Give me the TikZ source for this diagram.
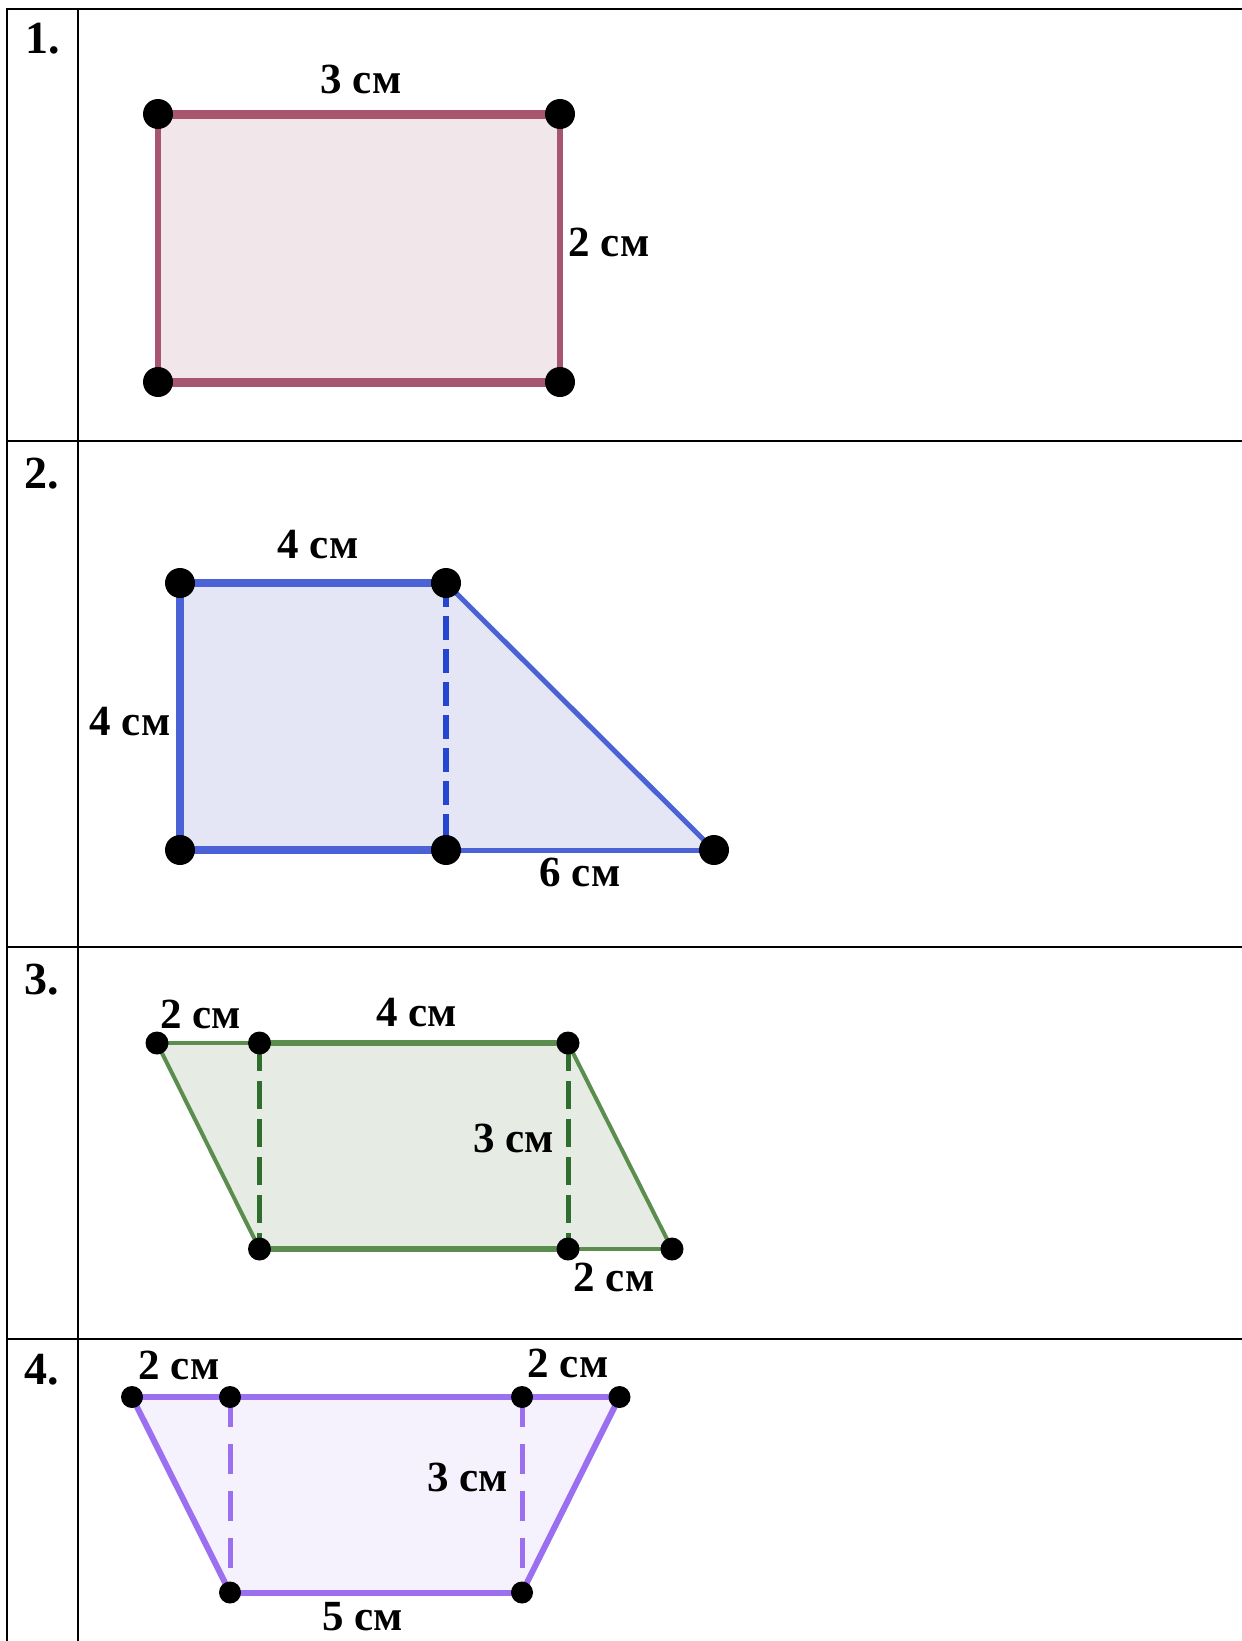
\documentclass[tikz,border=0pt]{standalone}
\usepackage{fontspec}
\setmainfont{Liberation Serif}
\usetikzlibrary{backgrounds}
\definecolor{rs}{HTML}{A8566F}
\definecolor{rf}{HTML}{F1E6EA}
\definecolor{bs}{HTML}{4A62D6}
\definecolor{bd}{HTML}{2446D0}
\definecolor{bf}{HTML}{E4E6F5}
\definecolor{gs}{HTML}{5B8E4E}
\definecolor{gd}{HTML}{2F6E2C}
\definecolor{gf}{HTML}{E6EBE3}
\definecolor{ps}{HTML}{9B6FF0}
\definecolor{pf}{HTML}{F5F2FD}
\tikzset{
  dot/.style={circle, fill=black, inner sep=0pt, minimum size=#1},
  lbl/.style={font=\fontsize{43}{50}\selectfont\bfseries, inner sep=0pt},
  num/.style={font=\fontsize{46}{54}\selectfont\bfseries, inner sep=0pt},
  tabline/.style={line width=2.2pt, black},
  dashA/.style={dash pattern=on 24pt off 9pt},
  dashB/.style={dash pattern=on 28pt off 10pt},
  dashC/.style={dash pattern=on 30pt off 17pt},
}
\begin{document}
\begin{tikzpicture}[x=1pt,y=-1pt]
\useasboundingbox (0,0) rectangle (1242,1641);
% table
\coordinate (TL) at (7,9);
\coordinate (TR) at (1242,9);
\coordinate (BL) at (7,1641);
\coordinate (CT) at (78,9);
\coordinate (CB) at (78,1641);
\coordinate (R1L) at (7,441);  \coordinate (R1R) at (1242,441);
\coordinate (R2L) at (7,947);  \coordinate (R2R) at (1242,947);
\coordinate (R3L) at (7,1339); \coordinate (R3R) at (1242,1339);
\draw[tabline] (TR) -- (TL) -- (BL);
\draw[tabline] (CT) -- (CB);
\draw[tabline] (R1L) -- (R1R);
\draw[tabline] (R2L) -- (R2R);
\draw[tabline] (R3L) -- (R3R);
\node[num] (n1) at (43,38.5) {1.};
\node[num] (n2) at (42,474) {2.};
\node[num] (n3) at (42,980) {3.};
\node[num] (n4) at (42,1370) {4.};

% ---------- Figure 1 ----------
\node[dot=30pt] (a1) at (158,114) {};
\node[dot=30pt] (a2) at (560,114) {};
\node[dot=30pt] (a3) at (560,382) {};
\node[dot=30pt] (a4) at (158,382) {};
\begin{scope}[on background layer]
\fill[rf] (a1.center) -- (a2.center) -- (a3.center) -- (a4.center) -- cycle;
\draw[rs, line width=9pt] (a1.center) -- (a2.center);
\draw[rs, line width=9pt] (a4.center) -- (a3.center);
\draw[rs, line width=6pt] (a2.center) -- (a3.center);
\draw[rs, line width=6pt] (a1.center) -- (a4.center);
\end{scope}
\node[lbl] (l11) at (361,79) {3 см};
\node[lbl] (l12) at (609,242) {2 см};

% ---------- Figure 2 ----------
\node[dot=30pt] (b1) at (180,583) {};
\node[dot=30pt] (b2) at (446,583) {};
\node[dot=30pt] (b3) at (180,850) {};
\node[dot=30pt] (b4) at (446,850) {};
\node[dot=30pt] (b5) at (714,850) {};
\begin{scope}[on background layer]
\fill[bf] (b1.center) -- (b2.center) -- (b5.center) -- (b3.center) -- cycle;
\draw[bs, line width=8pt] (b1.center) -- (b2.center);
\draw[bs, line width=8pt] (b1.center) -- (b3.center);
\draw[bs, line width=8pt] (b3.center) -- (b4.center);
\draw[bs, line width=5pt] (b4.center) -- (b5.center);
\draw[bs, line width=5pt] (b2.center) -- (b5.center);
\draw[bd, line width=6pt, dashA] (b2.center) -- (b4.center);
\end{scope}
\node[lbl] (l21) at (318,545) {4 см};
\node[lbl] (l22) at (130,722) {4 см};
\node[lbl] (l23) at (580,872) {6 см};

% ---------- Figure 3 ----------
\node[dot=23pt] (c1) at (157,1043) {};
\node[dot=23pt] (c2) at (259.5,1043) {};
\node[dot=23pt] (c3) at (568,1043) {};
\node[dot=23pt] (c4) at (259.5,1249) {};
\node[dot=23pt] (c5) at (568,1249) {};
\node[dot=23pt] (c6) at (672,1249) {};
\begin{scope}[on background layer]
\fill[gf] (c1.center) -- (c3.center) -- (c6.center) -- (c4.center) -- cycle;
\draw[gs, line width=4pt] (c1.center) -- (c2.center);
\draw[gs, line width=6pt] (c2.center) -- (c3.center);
\draw[gs, line width=6pt] (c4.center) -- (c5.center);
\draw[gs, line width=4pt] (c5.center) -- (c6.center);
\draw[gs, line width=4pt] (c1.center) -- (c4.center);
\draw[gs, line width=4pt] (c3.center) -- (c6.center);
\draw[gd, line width=5pt, dashB] (c2.center) -- (c4.center);
\draw[gd, line width=5pt, dashB] (c3.center) -- (c5.center);
\end{scope}
\node[lbl] (l31) at (200.5,1014) {2 см};
\node[lbl] (l32) at (416.5,1013) {4 см};
\node[lbl] (l33) at (513.5,1138) {3 см};
\node[lbl] (l34) at (614,1277.5) {2 см};

% ---------- Figure 4 ----------
\node[dot=22pt] (d1) at (132,1397) {};
\node[dot=22pt] (d2) at (230,1397) {};
\node[dot=22pt] (d3) at (522,1397) {};
\node[dot=22pt] (d4) at (619.5,1397) {};
\node[dot=22pt] (d5) at (230,1592.5) {};
\node[dot=22pt] (d6) at (522,1592.5) {};
\begin{scope}[on background layer]
\fill[pf] (d1.center) -- (d4.center) -- (d6.center) -- (d5.center) -- cycle;
\draw[ps, line width=6pt] (d1.center) -- (d4.center);
\draw[ps, line width=6pt] (d5.center) -- (d6.center);
\draw[ps, line width=6pt] (d1.center) -- (d5.center);
\draw[ps, line width=6pt] (d4.center) -- (d6.center);
\draw[ps, line width=5pt, dashC] (d2.center) -- (d5.center);
\draw[ps, line width=5pt, dashC] (d3.center) -- (d6.center);
\end{scope}
\node[lbl] (l41) at (179,1365.5) {2 см};
\node[lbl] (l42) at (568,1363) {2 см};
\node[lbl] (l43) at (467.5,1477.5) {3 см};
\node[lbl] (l44) at (362.5,1617) {5 см};
\end{tikzpicture}
\end{document}
